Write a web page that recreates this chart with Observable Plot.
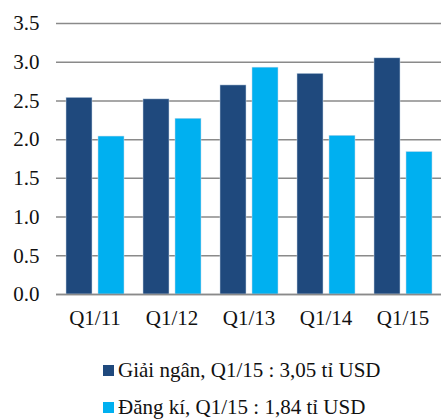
<!DOCTYPE html>
<html>
<head>
<meta charset="utf-8">
<script src="https://cdn.jsdelivr.net/npm/d3@7"></script>
<script src="https://cdn.jsdelivr.net/npm/@observablehq/plot@0.6"></script>
<style>
  html, body { margin: 0; padding: 0; background: #fff; }
  body { width: 441px; height: 419px; overflow: hidden; font-family: "Liberation Serif", "Times New Roman", serif; }
  #legend { position: relative; margin-top: 16px; }
  .item { display: flex; align-items: center; height: 37px; padding-left: 103px; font-size: 21px; color: #111; white-space: nowrap; font-family: "Liberation Serif", serif; }
  .sw { width: 11px; height: 11px; margin-right: 4px; }
  svg text { font-family: "Liberation Serif", serif; font-size: 21px; fill: #111; }
</style>
</head>
<body>
<div id="chart"></div>
<div id="legend"></div>
<script>
const quarters = ["Q1/11", "Q1/12", "Q1/13", "Q1/14", "Q1/15"];
const seriesNames = ["Giải ngân", "Đăng kí"];
const giaiNgan = [2.54, 2.52, 2.70, 2.85, 3.05];
const dangKi = [2.04, 2.27, 2.93, 2.05, 1.84];
const seriesColors = ["#1F497D", "#00B0F0"];
const yTicks = [0, 0.5, 1.0, 1.5, 2.0, 2.5, 3.0, 3.5];
const legendLabels = ["Giải ngân, Q1/15 : 3,05 tỉ USD", "Đăng kí, Q1/15 : 1,84 tỉ USD"];

const data = [];
quarters.forEach((q, i) => {
  data.push({quarter: q, series: seriesNames[0], value: giaiNgan[i]});
  data.push({quarter: q, series: seriesNames[1], value: dangKi[i]});
});

const chart = Plot.plot({
  width: 441,
  height: 336,
  marginLeft: 56,
  marginRight: 0,
  marginTop: 23,
  marginBottom: 42,
  style: {fontFamily: "Liberation Serif, serif", fontSize: "21px", color: "#111", background: "#fff"},
  fx: {domain: quarters, padding: 0, label: null, axis: "bottom", tickSize: 0, tickPadding: 16},
  x: {domain: seriesNames, paddingInner: 0.2, paddingOuter: 0.3, axis: null},
  y: {domain: [0, 3.5], ticks: yTicks, tickFormat: d3.format(".1f"), tickSize: 0, tickPadding: 17, label: null},
  color: {domain: seriesNames, range: seriesColors},
  marks: [
    Plot.ruleY(yTicks, {stroke: "#8a8a8a", strokeWidth: 1.5}),
    Plot.barY(data, {fx: "quarter", x: "series", y: "value", fill: "series", stroke: "#c8d8e8", strokeWidth: 0.5}),
    Plot.ruleY([0], {stroke: "#8a8a8a", strokeWidth: 1.5})
  ]
});
document.getElementById("chart").appendChild(chart);

const legend = document.getElementById("legend");
legendLabels.forEach((t, i) => {
  const div = document.createElement("div");
  div.className = "item";
  const sw = document.createElement("span");
  sw.className = "sw";
  sw.style.background = seriesColors[i];
  const tx = document.createElement("span");
  tx.textContent = t;
  div.appendChild(sw);
  div.appendChild(tx);
  legend.appendChild(div);
});
</script>
</body>
</html>
